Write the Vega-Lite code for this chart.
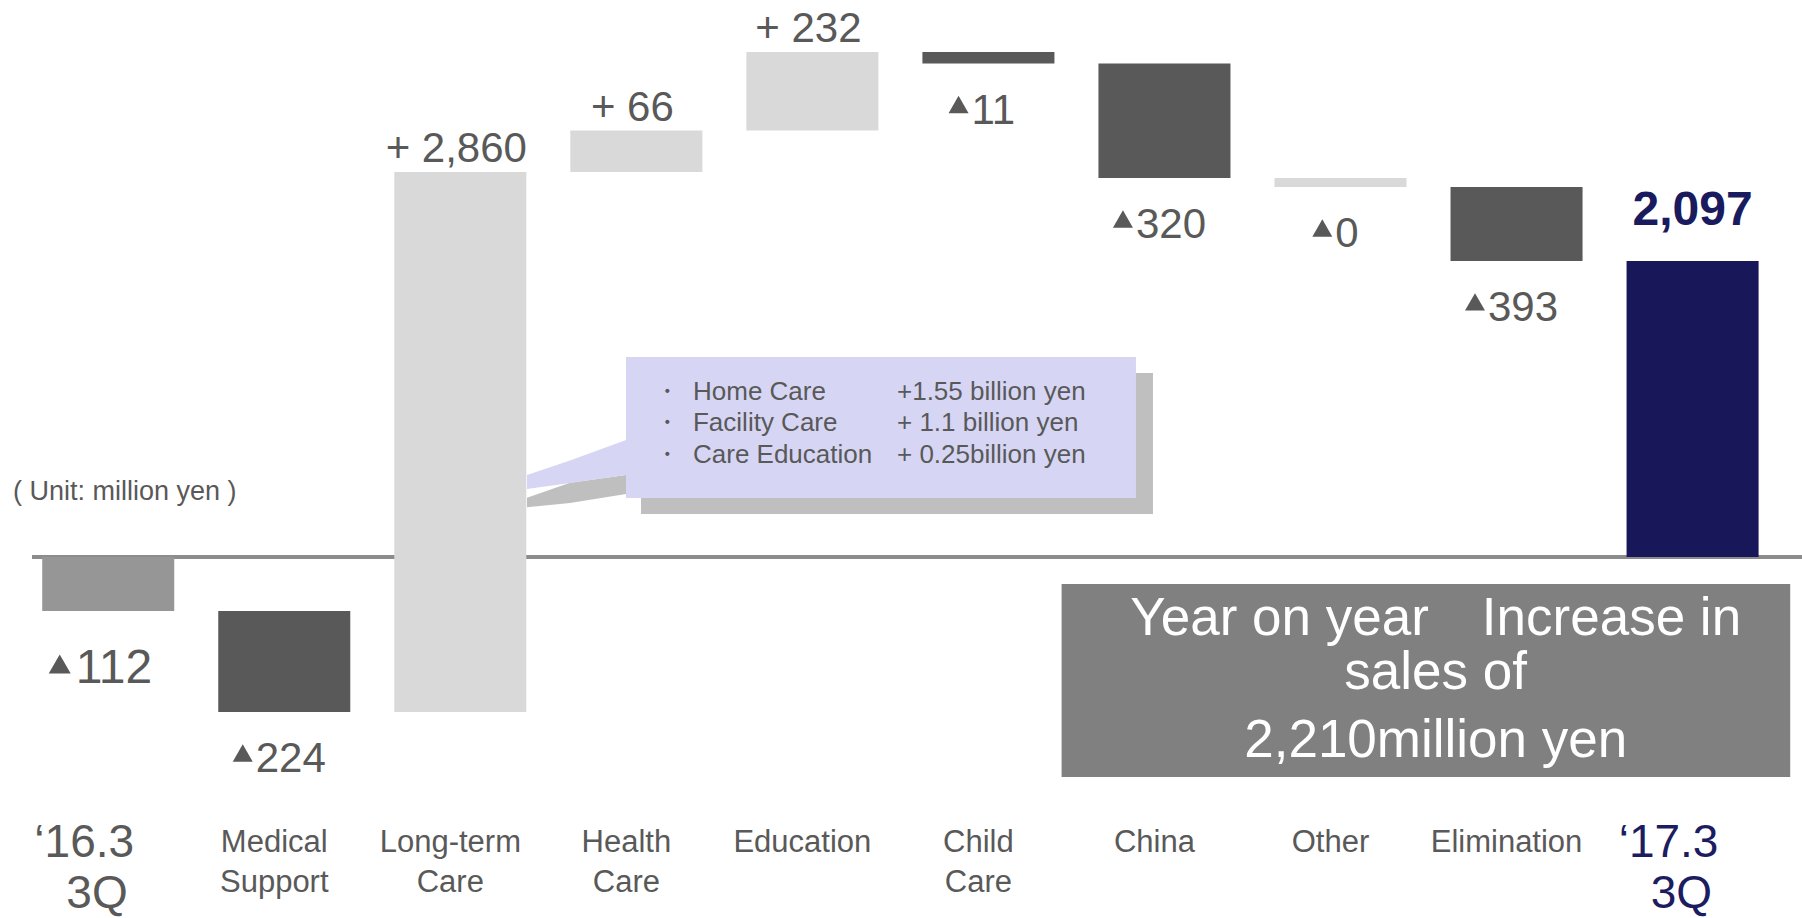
{
  "$schema": "https://vega.github.io/schema/vega-lite/v6.json",
  "width": 1802,
  "height": 918,
  "autosize": {"type": "none"},
  "padding": 0,
  "background": "#ffffff",
  "config": {"view": {"stroke": null}, "font": "Liberation Sans"},
  "datasets": {
    "bars": [
      {"cat": "‘16.3|3Q", "start": 0, "end": -112, "kind": "start", "label": "112"},
      {"cat": "Medical|Support", "start": -112, "end": -336, "kind": "decrease", "label": "224"},
      {"cat": "Long-term|Care", "start": -336, "end": 2524, "kind": "increase", "label": "+ 2,860"},
      {"cat": "Health|Care", "start": 2524, "end": 2590, "kind": "increase", "label": "+ 66"},
      {"cat": "Education", "start": 2590, "end": 2822, "kind": "increase", "label": "+ 232"},
      {"cat": "Child|Care", "start": 2822, "end": 2811, "kind": "decrease", "label": "11"},
      {"cat": "China", "start": 2811, "end": 2491, "kind": "decrease", "label": "320"},
      {"cat": "Other", "start": 2491, "end": 2490.6, "kind": "zero", "label": "0"},
      {"cat": "Elimination", "start": 2490.6, "end": 2097.2, "kind": "decrease", "label": "393"},
      {"cat": "‘17.3|3Q", "start": 0, "end": 2097, "kind": "end", "label": "2,097"}
    ],
    "baseline": [{"value": 0}],
    "wedges": [
      {"part": "shadow", "x": 2.3790, "top": 420.1, "bot": 352.1},
      {"part": "shadow", "x": 2.6233, "top": 526.4, "bot": 382.6},
      {"part": "shadow", "x": 2.9414, "top": 580.9, "bot": 446.3},
      {"part": "callout", "x": 2.3790, "top": 580.9, "bot": 481.7},
      {"part": "callout", "x": 2.6233, "top": 682.9, "bot": 524.3},
      {"part": "callout", "x": 2.9414, "top": 828.9, "bot": 580.9}
    ]
  },
  "layer": [
    {
      "data": {"name": "baseline"},
      "mark": {"type": "rule", "color": "#8C8C8C", "strokeWidth": 4},
      "encoding": {
        "x": {"datum": -0.4329, "type": "quantitative", "axis": null, "scale": {"domain": [-0.61463, 9.62168], "nice": false, "zero": false}},
        "x2": {"datum": 9.62168},
        "y": {"field": "value", "type": "quantitative", "axis": null,
              "scale": {"domain": [-336, -112, 0, 2097, 2490.6, 2491, 2524, 2590, 2811, 2822], "range": [712, 611, 557, 261, 187, 178, 172, 130.5, 63.5, 52], "nice": false, "zero": false}}
      }
    },
    {
      "data": {"name": "bars"},
      "encoding": {
        "x": {
          "field": "cat", "type": "nominal", "sort": null,
          "scale": {"paddingInner": 0.25, "paddingOuter": 0.2432, "align": 0.493, "round": false},
          "axis": {
            "title": null, "domain": false, "ticks": false, "tickSize": 0, "grid": false,
            "labelAngle": 0, "labelAlign": "center", "labelBaseline": "alphabetic",
            "labelFont": "Liberation Sans", "labelLineHeight": 40, "labelLimit": 0, "labelOverlap": false,
            "labelExpr": "split(replace(datum.label, '|3Q', '|\u200b\u00a0\u00a03Q'), '|')",
            "labelPadding": {"condition": {"test": "indexof(datum.value, '3Q') >= 0", "value": -62}, "value": -67},
            "labelOffset": {"condition": {"test": "indexof(datum.value, '3Q') >= 0", "value": -24}, "value": -10},
            "labelFontSize": {"condition": {"test": "indexof(datum.value, '3Q') >= 0", "value": 46}, "value": 31},
            "labelColor": {"condition": {"test": "indexof(datum.value, '17.3') >= 0", "value": "#1C1C60"}, "value": "#595959"},
            "encoding": {"labels": {"lineHeight": {"condition": {"test": "indexof(datum.value, '3Q') >= 0", "value": 51}, "value": 40}}}
          }
        }
      },
      "layer": [
        {
          "mark": {"type": "bar"},
          "encoding": {
            "y": {"field": "start", "type": "quantitative", "axis": null,
                  "scale": {"domain": [-336, -112, 0, 2097, 2490.6, 2491, 2524, 2590, 2811, 2822], "range": [712, 611, 557, 261, 187, 178, 172, 130.5, 63.5, 52], "nice": false, "zero": false}},
            "y2": {"field": "end"},
            "color": {"field": "kind", "type": "nominal", "legend": null,
                      "scale": {"domain": ["start", "decrease", "increase", "zero", "end"], "range": ["#969696", "#595959", "#D9D9D9", "#D9D9D9", "#17175A"]}}
          }
        },
        {
          "transform": [{"filter": "datum.kind == 'increase'"}],
          "mark": {"type": "text", "font": "Liberation Sans", "fontSize": 42, "color": "#595959", "align": "center", "baseline": "alphabetic", "dy": -10, "dx": -4},
          "encoding": {
            "y": {"field": "end", "type": "quantitative", "axis": null,
                  "scale": {"domain": [-336, -112, 0, 2097, 2490.6, 2491, 2524, 2590, 2811, 2822], "range": [712, 611, 557, 261, 187, 178, 172, 130.5, 63.5, 52], "nice": false, "zero": false}},
            "text": {"field": "label", "type": "nominal"}
          }
        },
        {
          "transform": [{"filter": "datum.kind == 'start' || datum.kind == 'decrease' || datum.kind == 'zero'"}],
          "mark": {"type": "text", "font": "Liberation Sans", "color": "#595959", "align": "left", "baseline": "alphabetic",
                   "dx": {"expr": "datum.kind == 'start' ? 7.5 - length(datum.label) * 13.34 : 6.5 - length(datum.label) * 11.676"},
                   "dy": {"expr": "datum.kind == 'start' ? 72 : 60"}},
          "encoding": {
            "y": {"field": "end", "type": "quantitative", "axis": null,
                  "scale": {"domain": [-336, -112, 0, 2097, 2490.6, 2491, 2524, 2590, 2811, 2822], "range": [712, 611, 557, 261, 187, 178, 172, 130.5, 63.5, 52], "nice": false, "zero": false}},
            "text": {"field": "label", "type": "nominal"},
            "size": {"condition": {"test": "datum.kind == 'start'", "value": 48}, "value": 42}
          }
        },
        {
          "transform": [{"filter": "datum.kind == 'start' || datum.kind == 'decrease' || datum.kind == 'zero'"}],
          "mark": {"type": "point", "shape": "triangle-up", "filled": true, "color": "#595959", "opacity": 1, "strokeWidth": 0,
                   "xOffset": {"expr": "datum.kind == 'start' ? -8.5 - length(datum.label) * 13.34 : -6.5 - length(datum.label) * 11.676"},
                   "yOffset": {"expr": "datum.kind == 'start' ? 53 : 41"}},
          "encoding": {
            "y": {"field": "end", "type": "quantitative", "axis": null,
                  "scale": {"domain": [-336, -112, 0, 2097, 2490.6, 2491, 2524, 2590, 2811, 2822], "range": [712, 611, 557, 261, 187, 178, 172, 130.5, 63.5, 52], "nice": false, "zero": false}},
            "size": {"condition": {"test": "datum.kind == 'start'", "value": 484}, "value": 400}
          }
        },
        {
          "transform": [{"filter": "datum.kind == 'end'"}],
          "mark": {"type": "text", "font": "Liberation Sans", "fontSize": 48, "fontWeight": "bold", "color": "#1A1A5E", "align": "center", "baseline": "alphabetic", "dy": -36},
          "encoding": {
            "y": {"field": "end", "type": "quantitative", "axis": null,
                  "scale": {"domain": [-336, -112, 0, 2097, 2490.6, 2491, 2524, 2590, 2811, 2822], "range": [712, 611, 557, 261, 187, 178, 172, 130.5, 63.5, 52], "nice": false, "zero": false}},
            "text": {"field": "label", "type": "nominal"}
          }
        }
      ]
    },
    {
      "layer": [
        {
          "data": {"name": "wedges"},
          "transform": [{"filter": "datum.part == 'shadow'"}],
          "mark": {"type": "area", "color": "#BFBFBF", "opacity": 1},
          "encoding": {
            "x": {"field": "x", "type": "quantitative", "axis": null, "scale": {"domain": [-0.61463, 9.62168], "nice": false, "zero": false}},
            "y": {"field": "top", "type": "quantitative", "axis": null,
                  "scale": {"domain": [-336, -112, 0, 2097, 2490.6, 2491, 2524, 2590, 2811, 2822], "range": [712, 611, 557, 261, 187, 178, 172, 130.5, 63.5, 52], "nice": false, "zero": false}},
            "y2": {"field": "bot"}
          }
        },
        {
          "data": {"values": [{"box": "callout shadow"}]},
          "mark": {"type": "rect", "color": "#BFBFBF"},
          "encoding": {
            "x": {"datum": 3.0266, "type": "quantitative", "axis": null, "scale": {"domain": [-0.61463, 9.62168], "nice": false, "zero": false}},
            "x2": {"datum": 5.9349},
            "y": {"datum": 1303.5, "type": "quantitative", "axis": null,
                  "scale": {"domain": [-336, -112, 0, 2097, 2490.6, 2491, 2524, 2590, 2811, 2822], "range": [712, 611, 557, 261, 187, 178, 172, 130.5, 63.5, 52], "nice": false, "zero": false}},
            "y2": {"datum": 304.6}
          }
        },
        {
          "data": {"name": "wedges"},
          "transform": [{"filter": "datum.part == 'callout'"}],
          "mark": {"type": "area", "color": "#D6D6F4", "opacity": 1},
          "encoding": {
            "x": {"field": "x", "type": "quantitative", "axis": null, "scale": {"domain": [-0.61463, 9.62168], "nice": false, "zero": false}},
            "y": {"field": "top", "type": "quantitative", "axis": null,
                  "scale": {"domain": [-336, -112, 0, 2097, 2490.6, 2491, 2524, 2590, 2811, 2822], "range": [712, 611, 557, 261, 187, 178, 172, 130.5, 63.5, 52], "nice": false, "zero": false}},
            "y2": {"field": "bot"}
          }
        },
        {
          "data": {"values": [{"box": "callout"}]},
          "mark": {"type": "rect", "color": "#D6D6F4"},
          "encoding": {
            "x": {"datum": 2.9414, "type": "quantitative", "axis": null, "scale": {"domain": [-0.61463, 9.62168], "nice": false, "zero": false}},
            "x2": {"datum": 5.8383},
            "y": {"datum": 1416.9, "type": "quantitative", "axis": null,
                  "scale": {"domain": [-336, -112, 0, 2097, 2490.6, 2491, 2524, 2590, 2811, 2822], "range": [712, 611, 557, 261, 187, 178, 172, 130.5, 63.5, 52], "nice": false, "zero": false}},
            "y2": {"datum": 418.0}
          }
        },
        {
          "data": {"values": [{"lines": ["・", "・", "・"]}]},
          "mark": {"type": "text", "font": "Liberation Sans", "fontSize": 26, "lineHeight": 31.5, "color": "#595959", "align": "center", "baseline": "alphabetic"},
          "encoding": {
            "x": {"datum": 3.1742, "type": "quantitative", "axis": null, "scale": {"domain": [-0.61463, 9.62168], "nice": false, "zero": false}},
            "y": {"datum": 1112.3, "type": "quantitative", "axis": null,
                  "scale": {"domain": [-336, -112, 0, 2097, 2490.6, 2491, 2524, 2590, 2811, 2822], "range": [712, 611, 557, 261, 187, 178, 172, 130.5, 63.5, 52], "nice": false, "zero": false}},
            "text": {"field": "lines", "type": "nominal"}
          }
        },
        {
          "data": {"values": [{"lines": ["Home Care", "Facility Care", "Care Education"]}]},
          "mark": {"type": "text", "font": "Liberation Sans", "fontSize": 26, "lineHeight": 31.5, "color": "#595959", "align": "left", "baseline": "alphabetic"},
          "encoding": {
            "x": {"datum": 3.3219, "type": "quantitative", "axis": null, "scale": {"domain": [-0.61463, 9.62168], "nice": false, "zero": false}},
            "y": {"datum": 1112.3, "type": "quantitative", "axis": null,
                  "scale": {"domain": [-336, -112, 0, 2097, 2490.6, 2491, 2524, 2590, 2811, 2822], "range": [712, 611, 557, 261, 187, 178, 172, 130.5, 63.5, 52], "nice": false, "zero": false}},
            "text": {"field": "lines", "type": "nominal"}
          }
        },
        {
          "data": {"values": [{"lines": ["+1.55 billion yen", "+ 1.1 billion yen", "+ 0.25billion yen"]}]},
          "mark": {"type": "text", "font": "Liberation Sans", "fontSize": 26, "lineHeight": 31.5, "color": "#595959", "align": "left", "baseline": "alphabetic"},
          "encoding": {
            "x": {"datum": 4.4808, "type": "quantitative", "axis": null, "scale": {"domain": [-0.61463, 9.62168], "nice": false, "zero": false}},
            "y": {"datum": 1112.3, "type": "quantitative", "axis": null,
                  "scale": {"domain": [-336, -112, 0, 2097, 2490.6, 2491, 2524, 2590, 2811, 2822], "range": [712, 611, 557, 261, 187, 178, 172, 130.5, 63.5, 52], "nice": false, "zero": false}},
            "text": {"field": "lines", "type": "nominal"}
          }
        },
        {
          "data": {"values": [{"lines": "( Unit: million yen )"}]},
          "mark": {"type": "text", "font": "Liberation Sans", "fontSize": 27, "color": "#595959", "align": "left", "baseline": "alphabetic"},
          "encoding": {
            "x": {"datum": -0.5408, "type": "quantitative", "axis": null, "scale": {"domain": [-0.61463, 9.62168], "nice": false, "zero": false}},
            "y": {"datum": 403.8, "type": "quantitative", "axis": null,
                  "scale": {"domain": [-336, -112, 0, 2097, 2490.6, 2491, 2524, 2590, 2811, 2822], "range": [712, 611, 557, 261, 187, 178, 172, 130.5, 63.5, 52], "nice": false, "zero": false}},
            "text": {"field": "lines", "type": "nominal"}
          }
        },
        {
          "data": {"values": [{"box": "summary"}]},
          "mark": {"type": "rect", "color": "#808080"},
          "encoding": {
            "x": {"datum": 5.4158, "type": "quantitative", "axis": null, "scale": {"domain": [-0.61463, 9.62168], "nice": false, "zero": false}},
            "x2": {"datum": 9.5547},
            "y": {"datum": -56.0, "type": "quantitative", "axis": null,
                  "scale": {"domain": [-336, -112, 0, 2097, 2490.6, 2491, 2524, 2590, 2811, 2822], "range": [712, 611, 557, 261, 187, 178, 172, 130.5, 63.5, 52], "nice": false, "zero": false}},
            "y2": {"datum": -480.2}
          }
        },
        {
          "data": {"values": [{"lines": ["Year on year　Increase in", "sales of"]}]},
          "mark": {"type": "text", "font": "Liberation Sans", "fontSize": 53, "lineHeight": 54, "color": "#ffffff", "align": "center", "baseline": "alphabetic"},
          "encoding": {
            "x": {"datum": 7.5409, "type": "quantitative", "axis": null, "scale": {"domain": [-0.61463, 9.62168], "nice": false, "zero": false}},
            "y": {"datum": -165.2, "type": "quantitative", "axis": null,
                  "scale": {"domain": [-336, -112, 0, 2097, 2490.6, 2491, 2524, 2590, 2811, 2822], "range": [712, 611, 557, 261, 187, 178, 172, 130.5, 63.5, 52], "nice": false, "zero": false}},
            "text": {"field": "lines", "type": "nominal"}
          }
        },
        {
          "data": {"values": [{"lines": "2,210million yen"}]},
          "mark": {"type": "text", "font": "Liberation Sans", "fontSize": 53, "color": "#ffffff", "align": "center", "baseline": "alphabetic"},
          "encoding": {
            "x": {"datum": 7.5409, "type": "quantitative", "axis": null, "scale": {"domain": [-0.61463, 9.62168], "nice": false, "zero": false}},
            "y": {"datum": -435.8, "type": "quantitative", "axis": null,
                  "scale": {"domain": [-336, -112, 0, 2097, 2490.6, 2491, 2524, 2590, 2811, 2822], "range": [712, 611, 557, 261, 187, 178, 172, 130.5, 63.5, 52], "nice": false, "zero": false}},
            "text": {"field": "lines", "type": "nominal"}
          }
        }
      ]
    }
  ],
  "resolve": {"scale": {"x": "independent"}}
}
